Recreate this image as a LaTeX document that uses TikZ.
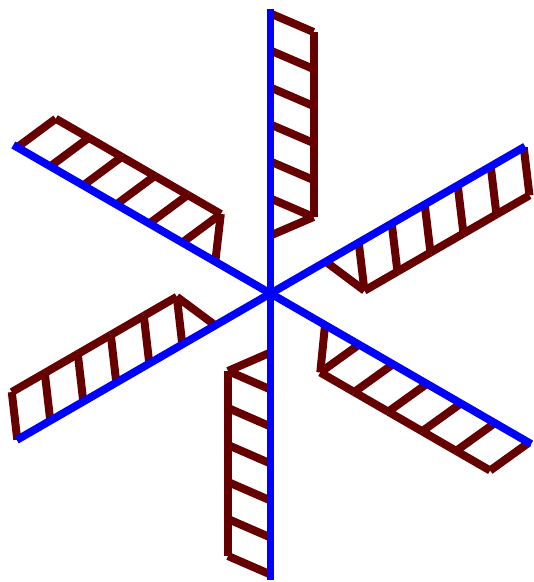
\documentclass[tikz,border=0pt]{standalone}
\definecolor{railbrown}{RGB}{102,0,0}
\definecolor{spokeblue}{RGB}{0,0,255}
\tikzset{
  railline/.style={draw=railbrown, line width=8pt},
  spokeline/.style={draw=spokeblue, line width=7.8pt},
}
% #1 scale along the arm, #2 shift along the arm, #3 length of the blue spoke, #4 rail offset
\newcommand{\ladderarm}[4]{%
  \foreach \k in {0,...,5}{
    \draw[railline] (#4,{(76.5+37*\k)*#1+#2}) -- (0,{(95+37*\k)*#1+#2});
  }
  \foreach \k in {0,...,4}{
    \draw[railline] (#4,{(76.5+37*\k)*#1+#2}) -- (#4,{(113.5+37*\k)*#1+#2});
  }
  \draw[railline] (#4,{76.5*#1+#2}) -- (0,{58*#1+#2});
  \draw[spokeline] (0,0) -- (0,#3);
}
\begin{document}
\begin{tikzpicture}[x=1pt,y=1pt]
\useasboundingbox (0,0) rectangle (534,582);
\coordinate (center) at (270.5,288.5);
\begin{scope}[shift={(center)},rotate=0]\ladderarm{1}{0}{284}{43}\end{scope}
\begin{scope}[shift={(center)},rotate=-60]\ladderarm{1.03}{4}{294}{44.5}\end{scope}
\begin{scope}[shift={(center)},rotate=-120]\ladderarm{1.06}{1.5}{301}{43.5}\end{scope}
\begin{scope}[shift={(center)},rotate=-180]\ladderarm{1}{1}{287}{42.5}\end{scope}
\begin{scope}[shift={(center)},rotate=-240]\ladderarm{1.03}{4}{293}{44}\end{scope}
\begin{scope}[shift={(center)},rotate=-300]\ladderarm{1.03}{4}{297}{44}\end{scope}
\end{tikzpicture}
\end{document}
